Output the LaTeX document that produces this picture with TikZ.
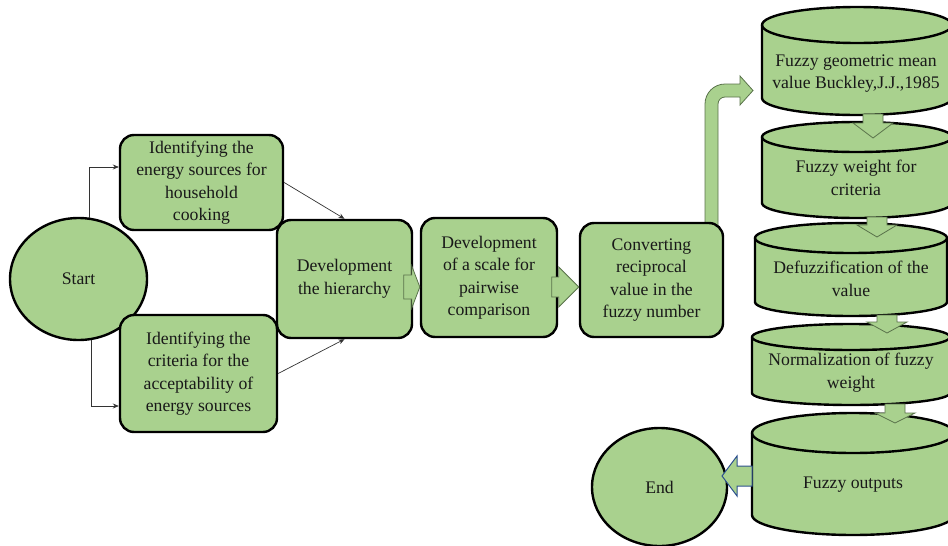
\documentclass[tikz,border=0pt]{standalone}
\usepackage{fontspec}
\setmainfont{Liberation Serif}
\usetikzlibrary{shapes.geometric,arrows.meta}
\definecolor{boxgreen}{RGB}{169,209,142}
\definecolor{arrline}{RGB}{90,115,75}
\definecolor{navyline}{RGB}{47,82,143}
\tikzset{
  txt/.style={font=\fontsize{17.7}{22.5}\selectfont, align=center, text=black!90},
  rbox/.style={txt, draw=black, line width=2.4pt, fill=boxgreen, rounded corners=14pt, inner sep=0pt},
  oval/.style={txt, ellipse, draw=black, line width=2.4pt, fill=boxgreen, inner sep=0pt},
  conn/.style={draw=black!80, line width=0.7pt, -{Stealth[length=6pt,width=5pt]}},
  blk/.style={fill=boxgreen, draw=arrline, line width=0.8pt},
  blkend/.style={fill=boxgreen, draw=navyline, line width=1pt},
  cylstyle/.style={fill=boxgreen, draw=black, line width=2.4pt, line join=round},
}
% block arrow: tip, rotation, total length, head length, shaft half width, head half width, style
\newcommand\barrow[7]{%
  \begin{scope}[shift={(#1)},rotate=#2]
    \filldraw[#7] (0,0) -- (-#4,#6) -- (-#4,#5) -- (-#3,#5) -- (-#3,-#5) -- (-#4,-#5) -- (-#4,-#6) -- cycle;
  \end{scope}}
% cylinder: cx, top centre y, bottom centre y, rx, ry top, ry bottom
\newcommand\mycyl[6]{%
  \filldraw[cylstyle] ({#1-#4},#2) -- ({#1-#4},#3)
     arc[start angle=180,end angle=360,x radius=#4pt,y radius=#6pt]
     -- ({#1+#4},#2)
     arc[start angle=0,end angle=180,x radius=#4pt,y radius=#5pt] -- cycle;
  \draw[cylstyle, fill=none] ({#1-#4},#2) arc[start angle=180,end angle=360,x radius=#4pt,y radius=#5pt];
}
\begin{document}
\begin{tikzpicture}[x=1pt,y=-1pt]
\useasboundingbox (0,0) rectangle (948,546);

% bent arrow from converting box to first cylinder
\filldraw[blk] (705,230) -- (705,104) arc[start angle=180,end angle=90,radius=20pt]
  -- (740,84) -- (740,76) -- (753,90.5) -- (740,105) -- (740,97) -- (725,97)
  arc[start angle=90,end angle=180,radius=7pt] -- (718,230) -- cycle;

% main boxes
\node[oval, minimum width=137pt, minimum height=122pt] (start) at (78.5,279) {Start};
\node[rbox, minimum width=163pt, minimum height=95pt] (b1) at (201.5,182.5)
  {Identifying the\\energy sources for\\household\\cooking};
\node[rbox, minimum width=157pt, minimum height=117pt] (b2) at (198.5,373.5)
  {Identifying the\\criteria for the\\acceptability of\\energy sources};
\node[rbox, minimum width=135pt, minimum height=118pt] (b3) at (344.5,279)
  {Development\\the hierarchy};
\node[rbox, minimum width=136pt, minimum height=119pt] (b4) at (489,277.5)
  {Development\\of a scale for\\pairwise\\comparison};
\node[rbox, minimum width=143pt, minimum height=114pt] (b5) at (651.5,280)
  {Converting\\reciprocal\\value in the\\fuzzy number};

% thin connectors
\draw[conn] (start.80) |- ([yshift=15.5pt]b1.west);
\draw[conn] (start.-78) |- ([yshift=-32.5pt]b2.west);
\draw[conn] (b1.east) -- (b3.north);
\draw[conn] (b2.east) -- (b3.south);

% horizontal block arrows
\barrow{[yshift=-9.5pt]b4.west}{0}{16}{8}{12}{21}{blk}
\barrow{[yshift=-7pt]b5.west}{0}{27}{20}{10}{20}{blk}

% cylinders
\mycyl{857}{25}{98}{95}{18}{17}
\mycyl{857}{137}{203}{95}{15}{15}
\mycyl{851}{238}{302}{96}{15}{14}
\mycyl{851}{337}{393}{99}{13}{12}
\mycyl{853}{433}{515}{101}{20}{20}

\node[txt] (c1) at (856,73.5) {Fuzzy geometric mean\\value Buckley,J.J.,1985};
\node[txt] (c2) at (856,178) {Fuzzy weight for\\criteria};
\node[txt] (c3) at (851,279) {Defuzzification of the\\value};
\node[txt] (c4) at (851,372.5) {Normalization of fuzzy\\weight};
\node[txt] (c5) at (853,485) {Fuzzy outputs};

% down block arrows between cylinders
\barrow{873,138}{-90}{24}{15}{10}{20}{blk}
\barrow{877,237}{-90}{20}{12}{10}{20}{blk}
\barrow{887,333}{-90}{18}{11}{10}{20}{blk}
\barrow{895,423}{-90}{19}{10}{10}{20}{blk}

% end
\node[oval, minimum width=135pt, minimum height=118pt] (end) at (659.5,487) {End};
\barrow{722,476}{180}{30}{15}{10}{20}{blkend}
\end{tikzpicture}
\end{document}
